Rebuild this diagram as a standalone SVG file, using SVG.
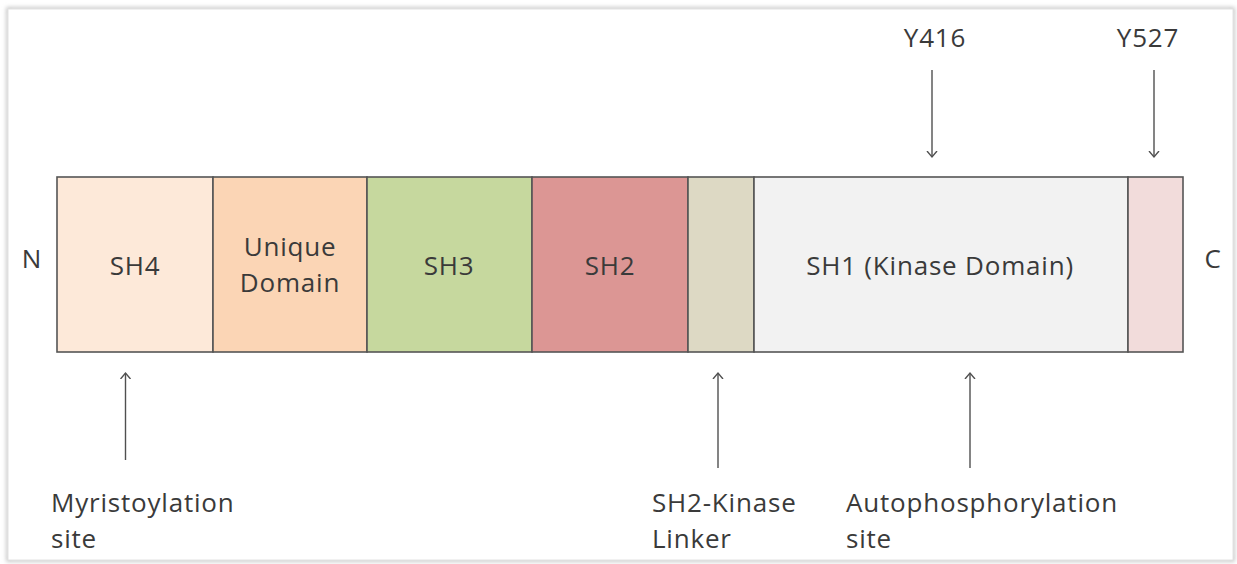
<svg xmlns="http://www.w3.org/2000/svg" width="1237" height="564" viewBox="0 0 1237 564">
<defs>
<style>
.t{font-family:"Open Sans","Noto Sans","Liberation Sans",sans-serif;font-size:26px;letter-spacing:0.8px;fill:#3a3a3a}
.c{text-anchor:middle}
.dom{stroke:#555;stroke-width:1.6}
.arr{stroke:#505050;stroke-width:1.4;fill:none}
</style>
<marker id="ah" markerWidth="12" markerHeight="12" refX="6" refY="6" orient="auto" markerUnits="userSpaceOnUse">
<path d="M0,1 L6,6 L0,11" fill="none" stroke="#505050" stroke-width="1.4"/>
</marker>
<filter id="sh" x="-5%" y="-5%" width="110%" height="110%">
<feGaussianBlur stdDeviation="2"/>
</filter>
</defs>
<rect width="1237" height="564" fill="#ffffff"/>
<rect x="8" y="9" width="1225" height="551" fill="none" stroke="#b8b8b8" stroke-width="3" filter="url(#sh)"/>
<rect x="8" y="9" width="1225" height="551" fill="#ffffff" stroke="#e2e2e2" stroke-width="1"/>

<g id="sh4"><rect class="dom" x="57" y="177" width="156" height="175" fill="#fde9d9"/><text class="t c" x="135" y="275">SH4</text></g>
<g id="unique"><rect class="dom" x="213" y="177" width="154" height="175" fill="#fbd5b5"/><text class="t c" x="290" y="256">Unique</text><text class="t c" x="290" y="292">Domain</text></g>
<g id="sh3"><rect class="dom" x="367" y="177" width="165" height="175" fill="#c6d89e"/><text class="t c" x="449" y="275">SH3</text></g>
<g id="sh2"><rect class="dom" x="532" y="177" width="156" height="175" fill="#dc9694"/><text class="t c" x="610" y="275">SH2</text></g>
<g id="linker"><rect class="dom" x="688" y="177" width="66" height="175" fill="#ddd9c4"/></g>
<g id="sh1"><rect class="dom" x="754" y="177" width="374" height="175" fill="#f2f2f2"/><text class="t c" x="940" y="275">SH1 (Kinase Domain)</text></g>
<g id="cterm"><rect class="dom" x="1128" y="177" width="55" height="175" fill="#f2dcdb"/></g>

<g id="n-label"><text class="t c" x="32" y="268">N</text></g>
<g id="c-label"><text class="t c" x="1213" y="268">C</text></g>
<g id="y416"><text class="t c" x="935" y="47">Y416</text></g>
<g id="y527"><text class="t c" x="1148" y="47">Y527</text></g>
<g id="myr"><text class="t" x="51" y="512">Myristoylation</text><text class="t" x="51" y="548">site</text></g>
<g id="lnk"><text class="t" x="652" y="512">SH2-Kinase</text><text class="t" x="652" y="548">Linker</text></g>
<g id="auto"><text class="t" x="846" y="512">Autophosphorylation</text><text class="t" x="846" y="548">site</text></g>

<g id="connectors">
<line class="arr" x1="932" y1="70" x2="932" y2="157" marker-end="url(#ah)"/>
<line class="arr" x1="1154" y1="70" x2="1154" y2="157" marker-end="url(#ah)"/>
<line class="arr" x1="125.5" y1="460" x2="125.5" y2="373" marker-end="url(#ah)"/>
<line class="arr" x1="718" y1="468" x2="718" y2="373" marker-end="url(#ah)"/>
<line class="arr" x1="970" y1="468" x2="970" y2="373" marker-end="url(#ah)"/>
</g>
</svg>
